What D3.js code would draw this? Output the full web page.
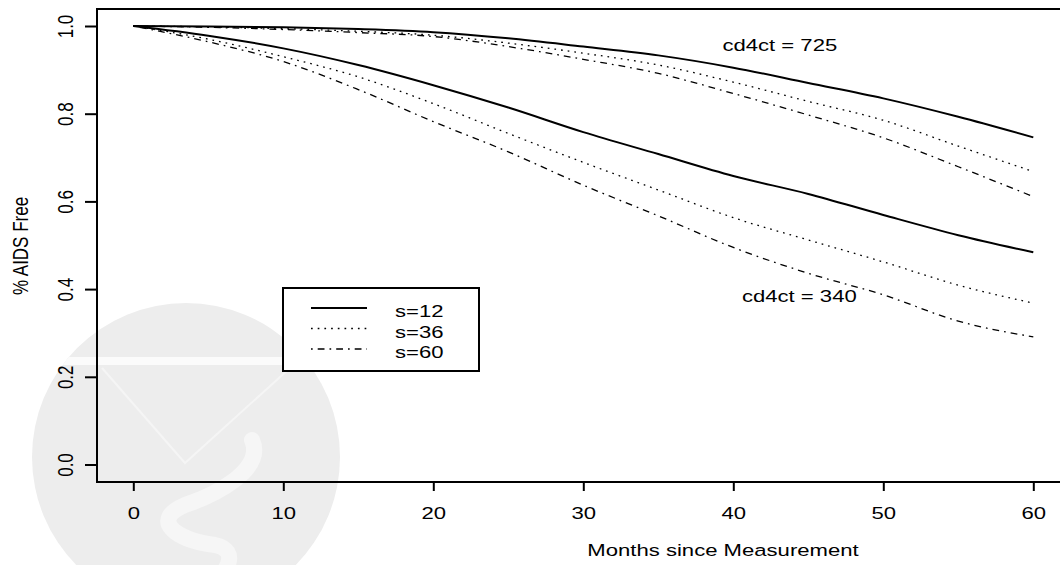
<!DOCTYPE html>
<html>
<head>
<meta charset="utf-8">
<script src="https://cdn.jsdelivr.net/npm/d3@7"></script>
<style>
  html, body { margin: 0; padding: 0; background: #fff; }
  svg text { font-family: "Liberation Sans", Arial, Helvetica, sans-serif; fill: #000; }
</style>
</head>
<body>
<div id="chart"></div>
<script>
const width = 1060;
const height = 565;

// months since measurement
const months = [0, 5, 10, 15, 20, 25, 30, 35, 40, 45, 50, 55, 60];

// cd4ct = 725
const high_s12 = [1.000, 0.999, 0.997, 0.993, 0.986, 0.972, 0.953, 0.933, 0.905, 0.870, 0.835, 0.793, 0.746];
const high_s36 = [1.000, 0.998, 0.994, 0.988, 0.979, 0.961, 0.938, 0.911, 0.872, 0.828, 0.785, 0.726, 0.668];
const high_s60 = [1.000, 0.997, 0.992, 0.985, 0.976, 0.953, 0.924, 0.892, 0.846, 0.797, 0.745, 0.679, 0.611];

// cd4ct = 340
const low_s12 = [1.000, 0.978, 0.949, 0.911, 0.865, 0.814, 0.758, 0.708, 0.658, 0.617, 0.569, 0.523, 0.484];
const low_s36 = [1.000, 0.970, 0.930, 0.884, 0.823, 0.755, 0.689, 0.626, 0.563, 0.512, 0.462, 0.409, 0.368];
const low_s60 = [1.000, 0.964, 0.919, 0.855, 0.782, 0.713, 0.637, 0.567, 0.495, 0.436, 0.387, 0.327, 0.291];

const legendLabels = ["s=12", "s=36", "s=60"];
const lineDash = [null, "1.7,5", "1.7,5,6.8,5"];
const lineWidth = [2, 1.3, 1.3];

const curveLabels = [
  { text: "cd4ct = 725", month: 43.1, value: 0.956 },
  { text: "cd4ct = 340", month: 44.4, value: 0.384 }
];

const xTicks = [0, 10, 20, 30, 40, 50, 60];
const yTicks = [0, 0.2, 0.4, 0.6, 0.8, 1.0];

// the whole figure looks stretched sideways, so text is stretched as well
const stretch = 1.3;

const box = { left: 97, top: 9, bottom: 482 };

const x = d3.scaleLinear().domain([0, 60]).range([133.3, 1033.3]);
const y = d3.scaleLinear().domain([0, 1]).range([464.5, 26]);

const svg = d3.select("#chart")
  .append("svg")
  .attr("width", width)
  .attr("height", height);

// faint watermark behind the plot
const wm = svg.append("g").attr("class", "watermark");
wm.append("clipPath").attr("id", "wmclip")
  .append("circle").attr("cx", 186).attr("cy", 457).attr("r", 154);
wm.append("circle")
  .attr("cx", 186).attr("cy", 457).attr("r", 154)
  .attr("fill", "#ededed");
const wmIn = wm.append("g").attr("clip-path", "url(#wmclip)");
wmIn.append("rect")
  .attr("x", 20).attr("y", 357).attr("width", 340).attr("height", 8)
  .attr("fill", "#fbfbfb");
wmIn.append("path")
  .attr("d", "M102,368 L185,463 L290,368")
  .attr("fill", "none").attr("stroke", "#f5f5f5").attr("stroke-width", 2);
wmIn.append("path")
  .attr("d", "M252,440 C265,470 215,495 185,505 C150,520 175,540 215,545 C240,550 230,575 200,590")
  .attr("fill", "none").attr("stroke", "#f6f6f6").attr("stroke-width", 16)
  .attr("stroke-linecap", "round");

// curves
const line = d3.line()
  .x((d, i) => x(months[i]))
  .y(d => y(d))
  .curve(d3.curveMonotoneX);

const series = [
  { values: high_s12, style: 0 },
  { values: high_s36, style: 1 },
  { values: high_s60, style: 2 },
  { values: low_s12, style: 0 },
  { values: low_s36, style: 1 },
  { values: low_s60, style: 2 }
];

svg.append("g").selectAll("path")
  .data(series)
  .enter().append("path")
  .attr("d", d => line(d.values))
  .attr("fill", "none")
  .attr("stroke", "#000")
  .attr("stroke-width", d => lineWidth[d.style])
  .attr("stroke-dasharray", d => lineDash[d.style]);

// curve labels
svg.append("g").selectAll("text")
  .data(curveLabels)
  .enter().append("text")
  .attr("transform", d => `translate(${x(d.month)},${y(d.value)}) scale(${stretch},1)`)
  .attr("text-anchor", "middle")
  .attr("dy", "0.36em")
  .style("font-size", "17px")
  .text(d => d.text);

// plot frame (runs off the right edge)
svg.append("path")
  .attr("d", `M1080,${box.top} H${box.left} V${box.bottom} H1080`)
  .attr("fill", "none")
  .attr("stroke", "#000")
  .attr("stroke-width", 2);

// x axis
const xAxis = svg.append("g")
  .attr("transform", `translate(0,${box.bottom})`)
  .call(d3.axisBottom(x).tickValues(xTicks).tickSize(9).tickFormat(d3.format("d")));
xAxis.select(".domain").remove();
xAxis.attr("font-family", null).attr("font-size", null);
xAxis.selectAll(".tick line").attr("stroke", "#000").attr("stroke-width", 2);
xAxis.selectAll(".tick text")
  .attr("y", null).attr("dy", null)
  .attr("transform", `translate(0,37) scale(${stretch},1)`)
  .style("font-size", "17px");

// y axis
const yAxis = svg.append("g")
  .attr("transform", `translate(${box.left},0)`)
  .call(d3.axisLeft(y).tickValues(yTicks).tickSize(12).tickFormat(d3.format(".1f")));
yAxis.select(".domain").remove();
yAxis.attr("font-family", null).attr("font-size", null);
yAxis.selectAll(".tick line").attr("stroke", "#000").attr("stroke-width", 2);
yAxis.selectAll(".tick text")
  .attr("x", null).attr("dy", null)
  .attr("text-anchor", "middle")
  .attr("transform", `translate(-24,0) scale(${stretch},1) rotate(-90)`)
  .style("font-size", "17px");

// axis titles
svg.append("text")
  .attr("transform", `translate(723,556) scale(${stretch},1)`)
  .attr("text-anchor", "middle")
  .style("font-size", "17px")
  .text("Months since Measurement");

svg.append("text")
  .attr("transform", `translate(28,246) scale(${stretch},1) rotate(-90)`)
  .attr("text-anchor", "middle")
  .style("font-size", "17px")
  .text("% AIDS Free");

// legend
const legend = svg.append("g").attr("class", "legend");
legend.append("rect")
  .attr("x", 283).attr("y", 288)
  .attr("width", 196).attr("height", 83)
  .attr("fill", "#fff")
  .attr("stroke", "#000")
  .attr("stroke-width", 2);

const legendRow = d3.scaleLinear().domain([0, 2]).range([308, 349]);

legend.selectAll("line")
  .data(legendLabels)
  .enter().append("line")
  .attr("x1", 311).attr("x2", 367)
  .attr("y1", (d, i) => legendRow(i))
  .attr("y2", (d, i) => legendRow(i))
  .attr("stroke", "#000")
  .attr("stroke-width", (d, i) => lineWidth[i])
  .attr("stroke-dasharray", (d, i) => lineDash[i]);

legend.selectAll("text")
  .data(legendLabels)
  .enter().append("text")
  .attr("transform", (d, i) => `translate(395,${legendRow(i) + 9}) scale(${stretch},1)`)
  .style("font-size", "17px")
  .text(d => d);
</script>
</body>
</html>
